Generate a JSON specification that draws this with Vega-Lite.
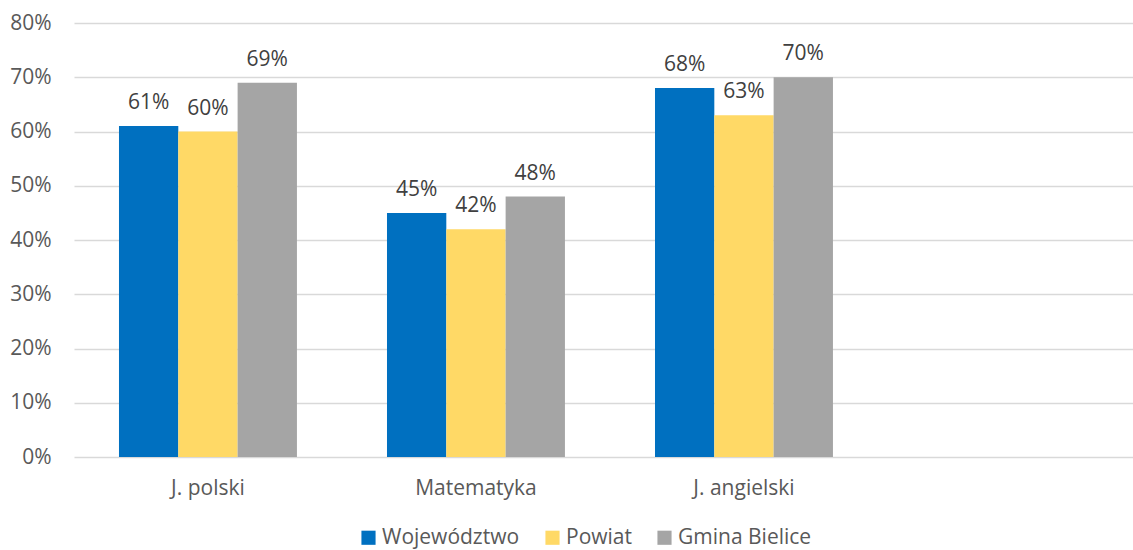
{
  "$schema": "https://vega.github.io/schema/vega-lite/v6.json",
  "width": 1059,
  "height": 434,
  "autosize": {"type": "none"},
  "padding": {"left": 74, "top": 23, "right": 0, "bottom": 93},
  "background": "white",
  "config": {
    "view": {"stroke": null},
    "font": "Open Sans",
    "axis": {"labelFont": "Open Sans", "labelColor": "#595959", "labelFontSize": 21, "titleFont": "Open Sans"},
    "legend": {"labelFont": "Open Sans", "labelColor": "#595959", "labelFontSize": 21}
  },
  "data": {
    "values": [
      {"subject": "J. polski", "series": "Województwo", "value": 0.61},
      {"subject": "J. polski", "series": "Powiat", "value": 0.60},
      {"subject": "J. polski", "series": "Gmina Bielice", "value": 0.69},
      {"subject": "Matematyka", "series": "Województwo", "value": 0.45},
      {"subject": "Matematyka", "series": "Powiat", "value": 0.42},
      {"subject": "Matematyka", "series": "Gmina Bielice", "value": 0.48},
      {"subject": "J. angielski", "series": "Województwo", "value": 0.68},
      {"subject": "J. angielski", "series": "Powiat", "value": 0.63},
      {"subject": "J. angielski", "series": "Gmina Bielice", "value": 0.70}
    ]
  },
  "encoding": {
    "x": {
      "field": "subject",
      "type": "nominal",
      "sort": null,
      "scale": {"domain": ["J. polski", "Matematyka", "J. angielski", " "], "paddingInner": 0.336, "paddingOuter": 0.1437, "align": 0.584},
      "axis": {"title": null, "labelAngle": 0, "domain": false, "ticks": false, "labelPadding": 20, "grid": false}
    },
    "xOffset": {
      "field": "series",
      "type": "nominal",
      "scale": {"domain": ["Województwo", "Powiat", "Gmina Bielice"], "paddingInner": 0}
    },
    "y": {
      "field": "value",
      "type": "quantitative",
      "scale": {"domain": [0, 0.8], "nice": false},
      "axis": {"title": null, "format": ".0%", "values": [0, 0.1, 0.2, 0.3, 0.4, 0.5, 0.6, 0.7, 0.8], "domain": false, "ticks": false, "labelPadding": 23, "gridColor": "#d9d9d9", "gridWidth": 1.5}
    }
  },
  "layer": [
    {
      "mark": {"type": "bar"},
      "encoding": {
        "color": {
          "field": "series",
          "type": "nominal",
          "scale": {"domain": ["Województwo", "Powiat", "Gmina Bielice"], "range": ["#0070C0", "#FFD966", "#A5A5A5"]},
          "legend": {"title": null, "orient": "none", "legendX": 284, "legendY": 504, "direction": "horizontal", "symbolType": "square", "symbolSize": 200, "symbolStrokeWidth": 0, "columnPadding": 22, "labelOffset": 3}
        }
      }
    },
    {
      "mark": {"type": "text", "baseline": "bottom", "dy": -13, "fontSize": 21, "color": "#404040", "font": "Open Sans"},
      "encoding": {
        "text": {"field": "value", "type": "quantitative", "format": ".0%"}
      }
    }
  ]
}
